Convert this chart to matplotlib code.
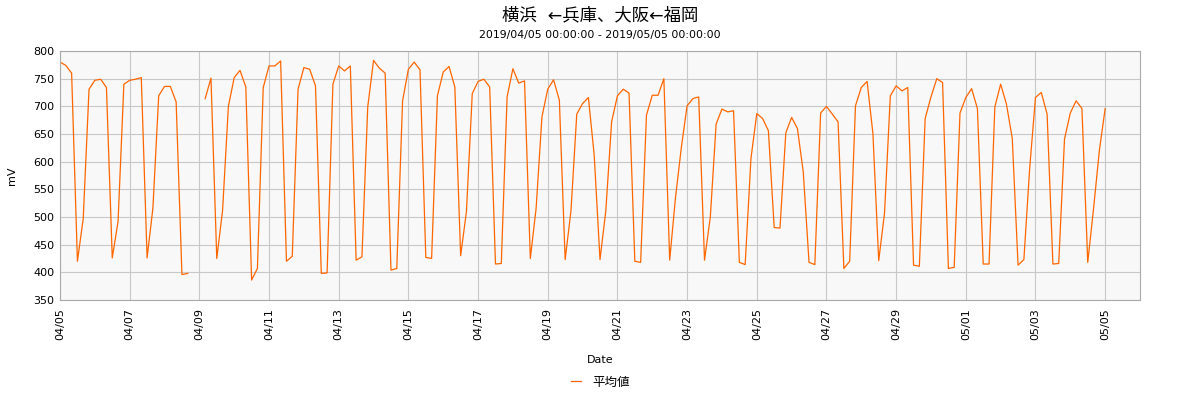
import numpy as np
import pandas as pd
import matplotlib
matplotlib.use('Agg')
import matplotlib.pyplot as plt

plt.rcParams['font.family'] = ['DejaVu Sans', 'Noto Sans CJK JP']

# 4-hourly averages, 2019/04/05 00:00 - 2019/05/05 00:00 (nan = missing)
values = [
    780, 774, 760, 420, 497, 731,
    747, 749, 734, 426, 492, 740,
    747, 749, 752, 426, 516, 719,
    736, 736, 708, 396, 398, np.nan,
    np.nan, 714, 751, 425, 512, 700,
    752, 765, 735, 386, 407, 734,
    773, 773, 782, 420, 429, 731,
    770, 767, 737, 398, 399, 740,
    773, 764, 773, 422, 428, 699,
    783, 769, 760, 404, 407, 710,
    767, 780, 766, 427, 425, 719,
    762, 772, 735, 430, 510, 723,
    745, 749, 735, 415, 416, 717,
    768, 742, 746, 425, 516, 681,
    731, 748, 711, 423, 511, 686,
    705, 716, 612, 423, 511, 672,
    719, 731, 724, 420, 418, 684,
    720, 720, 750, 422, 535, 625,
    701, 714, 717, 422, 500, 668,
    695, 690, 692, 418, 414, 606,
    687, 678, 656, 481, 480, 652,
    680, 660, 582, 418, 414, 688,
    700, 686, 672, 407, 420, 701,
    734, 745, 651, 421, 507, 719,
    737, 728, 734, 413, 411, 678,
    717, 750, 743, 407, 409, 688,
    716, 732, 696, 415, 415, 699,
    740, 704, 642, 413, 423, 588,
    716, 725, 686, 415, 416, 641,
    688, 710, 696, 418, 515, 620,
    696,
]
times = pd.date_range('2019-04-05 00:00', periods=len(values), freq='4h')

title = '横浜  ←兵庫、大阪←福岡'
subtitle = '2019/04/05 00:00:00 - 2019/05/05 00:00:00'
series_name = '平均値'

fig = plt.figure(figsize=(12, 4), dpi=100)
ax = fig.add_axes([0.05, 0.25, 0.90, 0.6225])
ax.set_facecolor('#f8f8f8')

ax.plot(times, values, color='#ff6600', linewidth=0.9, label=series_name)

ax.set_ylim(350, 800)
ax.set_yticks(np.arange(350, 801, 50))
ax.set_xlim(pd.Timestamp('2019-04-05'), pd.Timestamp('2019-05-06'))
ticks = pd.date_range('2019-04-05', '2019-04-29', freq='2D').append(
    pd.date_range('2019-05-01', '2019-05-05', freq='2D'))
ax.set_xticks(ticks)
ax.set_xticklabels([t.strftime('%m/%d') for t in ticks])
ax.tick_params(axis='x', labelrotation=90, labelsize=8, length=0, pad=6)
ax.tick_params(axis='y', labelsize=8, length=0, pad=4)

ax.grid(True, color='#c8c8c8', linewidth=0.8)
ax.set_axisbelow(True)
for sp in ax.spines.values():
    sp.set_color('#aaaaaa')

ax.set_ylabel('mV', fontsize=8)
ax.yaxis.set_label_coords(-0.04, 0.5)
ax.set_xlabel('Date', fontsize=8)
ax.xaxis.set_label_coords(0.5, -0.22)

fig.text(0.5, 0.962, title, ha='center', va='center', fontsize=12.5)
fig.text(0.5, 0.912, subtitle, ha='center', va='center', fontsize=7.8)

fig.legend(loc='center', bbox_to_anchor=(0.5, 0.045), frameon=False, fontsize=9,
           handlelength=0.8, handletextpad=0.9)

fig.savefig('out.png', dpi=100)
